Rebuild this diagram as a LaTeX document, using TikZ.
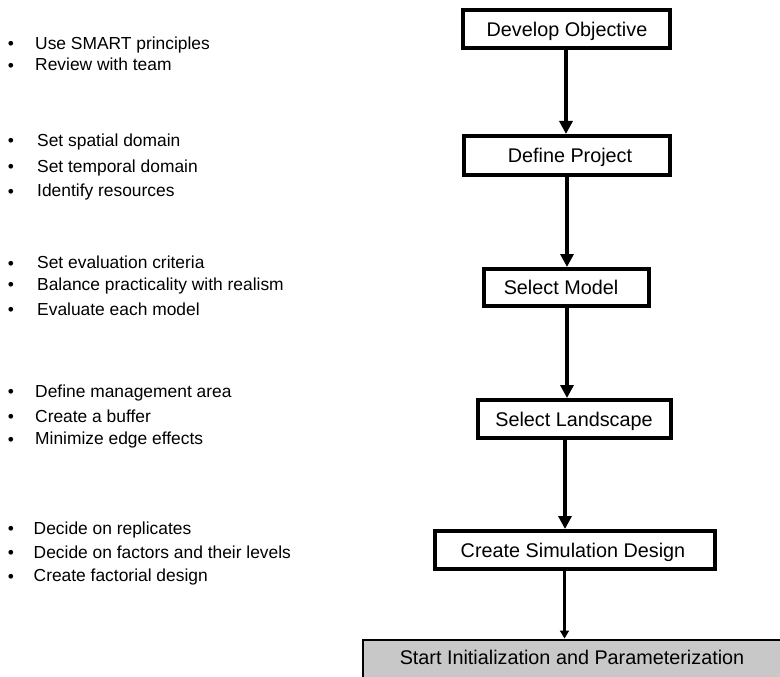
\documentclass[tikz,border=0pt]{standalone}
\usepackage{fontspec}
\setmainfont{Liberation Sans}
\usetikzlibrary{arrows.meta}
\definecolor{boxgray}{RGB}{200,200,200}
\begin{document}
\begin{tikzpicture}[x=1pt,y=-1pt,
  stepbox/.style={draw=black, line width=4pt, fill=white, inner sep=0pt,
    font=\fontsize{19.8}{24}\selectfont, text height=14.2pt, text depth=0pt,
    minimum height=38pt},
  finalbox/.style={draw=black, line width=2.5pt, fill=boxgray, inner sep=0pt,
    font=\fontsize{19.8}{24}\selectfont, text height=14.2pt, text depth=0pt},
  item/.style={anchor=west, inner sep=0pt, font=\fontsize{17.4}{21}\selectfont,
    text height=12.5pt, text depth=0pt},
  bul/.style={inner sep=0pt, font=\fontsize{17.4}{21}\selectfont},
  arr/.style={line width=4.5pt, -{Triangle[width=13pt,length=13pt]}},
  thinarr/.style={line width=3pt, -{Triangle[width=9pt,length=8pt]}}
]
\useasboundingbox (0,0) rectangle (780,677);
\clip (0,0) rectangle (780,677);

% flow of steps
\node[stepbox, minimum width=207pt] (b1) at (566.5,29) {\hspace*{1pt}Develop Objective};
\node[stepbox, minimum width=206pt, minimum height=39pt] (b2) at (567,155.5) {\hspace*{6pt}Define Project};
\node[stepbox, minimum width=165pt, minimum height=37pt] (b3) at (566.5,287.5) {\hspace*{-11pt}Select Model};
\node[stepbox, minimum width=193pt] (b4) at (574.5,419) {\hspace*{-1pt}Select Landscape};
\node[stepbox, minimum width=280pt] (b5) at (575,550) {\hspace*{-4pt}Create Simulation Design};
\node[finalbox, minimum width=440pt, minimum height=60pt] (b6) at (583,669.75)
  {\raisebox{12.3pt}{\hspace*{-22pt}Start Initialization and Parameterization}};

% connector columns
\coordinate (x12) at (566,0);
\coordinate (x23) at (567,0);
\coordinate (x34) at (567,0);
\coordinate (x45) at (565,0);
\coordinate (x56) at (564.5,0);

\draw[arr] (b1.south -| x12) -- (b2.north -| x12);
\draw[arr] (b2.south -| x23) -- (b3.north -| x23);
\draw[arr] (b3.south -| x34) -- (b4.north -| x34);
\draw[arr] (b4.south -| x45) -- (b5.north -| x45);
\draw[thinarr] (b5.south -| x56) -- (b6.north -| x56);

% bullet lists
\foreach \n/\x/\y/\t in {
  la/35/43/Use SMART principles,
  lb/35/64.5/Review with team,
  lc/37/140/Set spatial domain,
  ld/37/166/Set temporal domain,
  le/37/190.5/Identify resources,
  lf/37/262.7/Set evaluation criteria,
  lg/37/284.3/Balance practicality with realism,
  lh/37/309/Evaluate each model,
  li/35/391/Define management area,
  lj/35/416/Create a buffer,
  lk/35/438.5/Minimize edge effects,
  ll/33.5/528/Decide on replicates,
  lm/33.5/552/Decide on factors and their levels,
  ln/33.5/575.5/Create factorial design}{
  \node[bul] (\n-dot) at (11,\y+2.5) {•};
  \node[item] (\n) at (\x,\y) {\t};
}
\end{tikzpicture}
\end{document}
